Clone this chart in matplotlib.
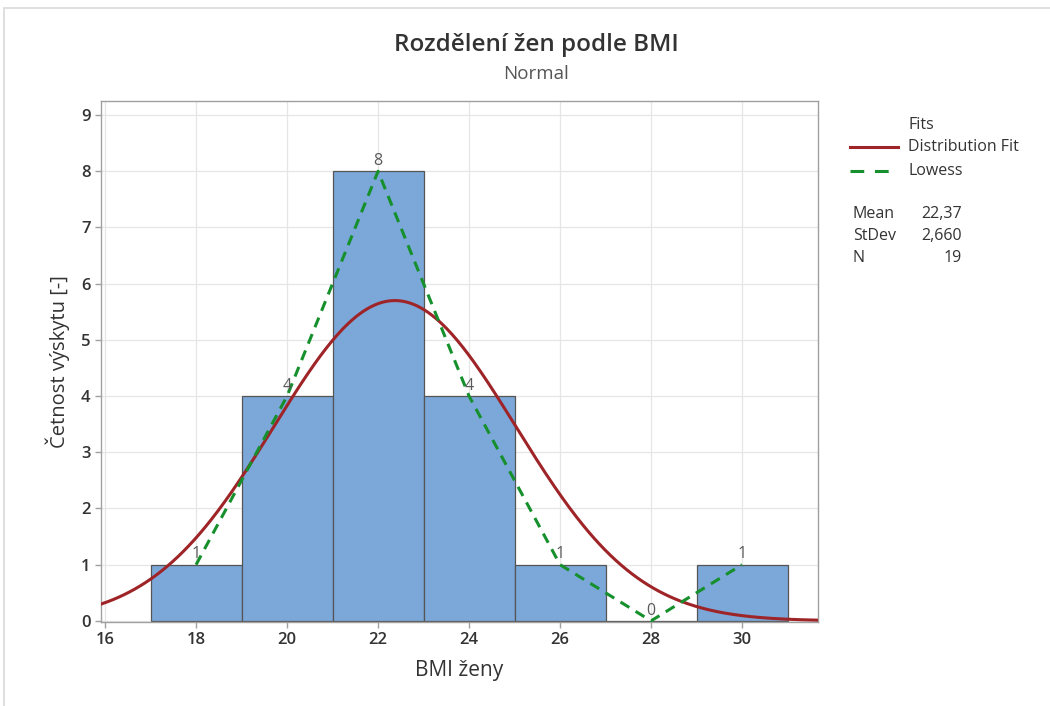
import numpy as np
import matplotlib
matplotlib.use("Agg")
import matplotlib.pyplot as plt
from matplotlib.patches import Rectangle
from matplotlib.lines import Line2D

plt.rcParams['font.family'] = ['Open Sans', 'DejaVu Sans']

# Data
bin_edges = [17, 19, 21, 23, 25, 27, 29, 31]
counts = [1, 4, 8, 4, 1, 0, 1]
lowess_x = [18, 20, 22, 24, 26, 28, 30]
lowess_y = [1.0, 4.0, 8.0, 4.0, 1.0, 0.0, 1.0]
mean = 22.37
stdev = 2.660
n = 19
x_ticks = [16, 18, 20, 22, 24, 26, 28, 30]
y_ticks = list(range(0, 10))

RED = '#9E2428'
GREEN = '#16902C'
DASH = (0, (3.4, 2.4))

fig = plt.figure(figsize=(10.5, 7.06), dpi=100)
ax = fig.add_axes([101/1050, 1 - 622/706, (818-101)/1050, (622-101)/706])

left = bin_edges[:-1]
widths = np.diff(bin_edges)
ax.bar(left, counts, width=widths, align='edge', color='#7BA7D9',
       edgecolor='#555555', linewidth=0.9, zorder=2)

mids = [(a + b) / 2 for a, b in zip(bin_edges[:-1], bin_edges[1:])]
for m, c in zip(mids, counts):
    ax.text(m, c + 0.04, str(c), ha='center', va='bottom', fontsize=11.5,
            color='#5A5A5A', zorder=5)

xs = np.linspace(15.9, 31.7, 400)
bw = 2
ys = n * bw / (stdev * np.sqrt(2 * np.pi)) * np.exp(-0.5 * ((xs - mean) / stdev) ** 2)
ax.plot(xs, ys, color=RED, linewidth=2.2, zorder=4)
ax.plot(lowess_x, lowess_y, color=GREEN, linewidth=2.2, linestyle=DASH, zorder=4)

ax.set_xlim(15.91, 31.67)
ax.set_ylim(-0.02, 9.25)
ax.set_xticks(x_ticks)
ax.set_yticks(y_ticks)
ax.grid(True, color='#E6E6E6', linewidth=0.9, zorder=0)
ax.set_axisbelow(True)
for s in ax.spines.values():
    s.set_color('#A0A0A0')
    s.set_linewidth(1.0)
ax.tick_params(axis='both', colors='#A0A0A0', labelcolor='#333333',
               labelsize=12, length=4, width=1)
for lab in ax.get_xticklabels() + ax.get_yticklabels():
    lab.set_fontweight('semibold')
ax.set_xlabel('BMI ženy', fontsize=15, color='#333333', labelpad=8, fontweight='medium')
ax.set_ylabel('Četnost výskytu [-]', fontsize=14.5, color='#333333', labelpad=8, fontweight='medium')

fig.text(536/1050, 1 - 45/706, 'Rozdělení žen podle BMI', ha='center', va='center',
         fontsize=17.5, color='#333333', fontweight='semibold')
fig.text(536/1050, 1 - 74/706, 'Normal', ha='center', va='center',
         fontsize=13.5, color='#555555')

# Legend
fs = 11.5
fig.text(908/1050, 1 - 125/706, 'Fits', ha='left', va='center', fontsize=fs, color='#333333')
fig.text(908/1050, 1 - 147/706, 'Distribution Fit', ha='left', va='center', fontsize=fs, color='#333333')
fig.text(908/1050, 1 - 171/706, 'Lowess', ha='left', va='center', fontsize=fs, color='#333333')
fig.add_artist(Line2D([850/1050, 898/1050], [1 - 147/706, 1 - 147/706],
                      color=RED, linewidth=2.2))
fig.add_artist(Line2D([850/1050, 898/1050], [1 - 171/706, 1 - 171/706],
                      color=GREEN, linewidth=2.2, linestyle=(0, (4.5, 3.5))))

stats_labels = ['Mean', 'StDev', 'N']
stats_vals = ['22,37', '2,660', '19']
for i, (lab, val) in enumerate(zip(stats_labels, stats_vals)):
    yy = 1 - (214 + 22 * i) / 706
    fig.text(853/1050, yy, lab, ha='left', va='center', fontsize=fs, color='#333333')
    fig.text(962/1050, yy, val, ha='right', va='center', fontsize=fs, color='#333333')

# outer frame
fig.add_artist(Rectangle((4/1050, -0.01), 1.02, 1 - 8/706 + 0.01, transform=fig.transFigure,
                         fill=False, edgecolor='#D9D9D9', linewidth=1.2))

fig.savefig('out.png', dpi=100)
